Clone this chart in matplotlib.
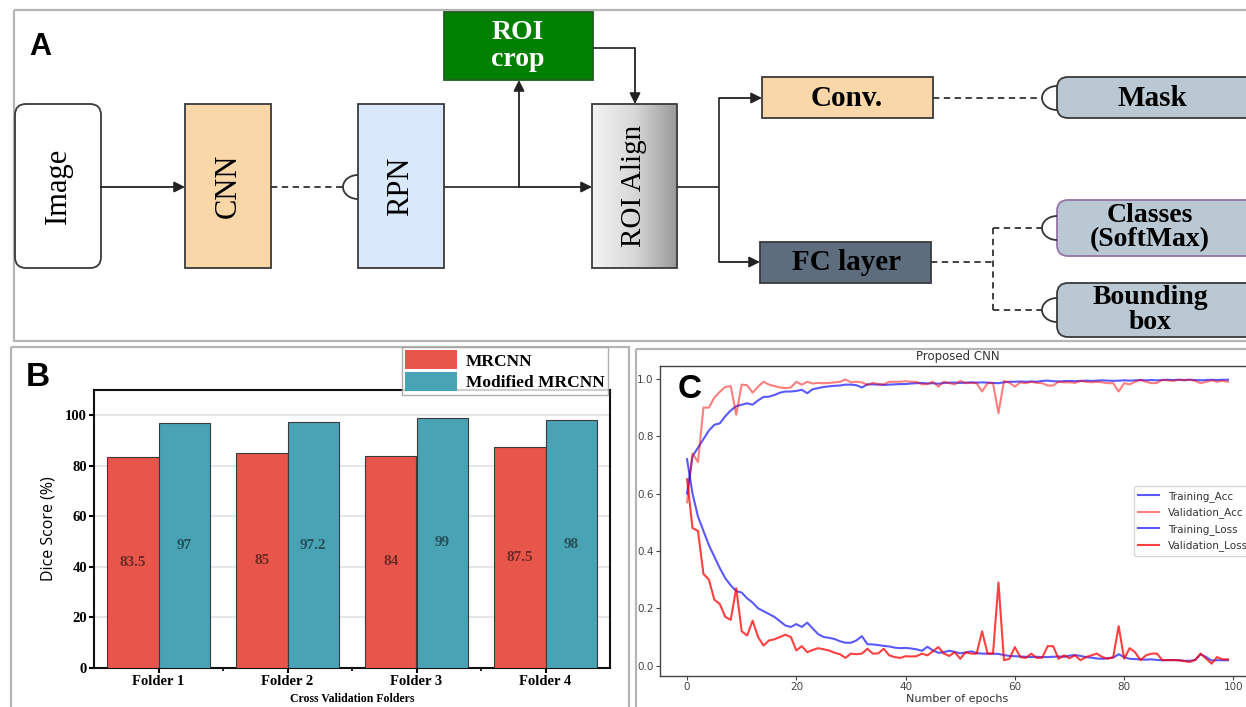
import numpy as np
import matplotlib
matplotlib.use('Agg')
import matplotlib.pyplot as plt
from matplotlib.patches import Rectangle, FancyBboxPatch, Arc, Patch
from matplotlib.colors import LinearSegmentedColormap

W, H = 1246, 707

# ---------------- Panel B data ----------------
folders = ['Folder 1', 'Folder 2', 'Folder 3', 'Folder 4']
mrcnn = [83.5, 85, 84, 87.5]
modified = [97, 97.2, 99, 98]
mrcnn_labels = ['83.5', '85', '84', '87.5']
modified_labels = ['97', '97.2', '99', '98']
series_names = ['MRCNN', 'Modified MRCNN']

# ---------------- Panel C data ----------------
epochs = list(range(100))
train_acc = [0.60, 0.73, 0.76, 0.79, 0.82, 0.84, 0.845, 0.87, 0.89, 0.905,
             0.91, 0.915, 0.91, 0.925, 0.937, 0.938, 0.944, 0.952, 0.956, 0.956,
             0.958, 0.962, 0.95, 0.964, 0.968, 0.972, 0.974, 0.976, 0.977, 0.98,
             0.98, 0.978, 0.97, 0.981, 0.981, 0.98, 0.979, 0.98, 0.981, 0.982,
             0.982, 0.984, 0.985, 0.986, 0.984, 0.985, 0.983, 0.986, 0.987, 0.987,
             0.986, 0.987, 0.988, 0.987, 0.988, 0.987, 0.986, 0.985, 0.988, 0.99,
             0.99, 0.991, 0.99, 0.991, 0.99, 0.993, 0.994, 0.992, 0.991, 0.992,
             0.993, 0.992, 0.993, 0.994, 0.993, 0.994, 0.995, 0.994, 0.993, 0.994,
             0.995, 0.994, 0.995, 0.996, 0.995, 0.996, 0.995, 0.996, 0.997, 0.996,
             0.997, 0.996, 0.997, 0.996, 0.995, 0.996, 0.997, 0.996, 0.997, 0.997]
val_acc = [0.57, 0.74, 0.71, 0.90, 0.90, 0.935, 0.955, 0.972, 0.975, 0.875,
           0.98, 0.978, 0.952, 0.973, 0.99, 0.98, 0.975, 0.97, 0.968, 0.97,
           0.99, 0.98, 0.99, 0.984, 0.986, 0.985, 0.986, 0.988, 0.99, 0.998,
           0.988, 0.99, 0.988, 0.979, 0.986, 0.982, 0.981, 0.99, 0.99, 0.99,
           0.992, 0.99, 0.99, 0.981, 0.982, 0.99, 0.973, 0.99, 0.985, 0.981,
           0.993, 0.985, 0.986, 0.985, 0.956, 0.985, 0.985, 0.88, 0.993, 0.987,
           0.973, 0.988, 0.985, 0.99, 0.986, 0.985, 0.977, 0.977, 0.99, 0.988,
           0.988, 0.986, 0.993, 0.99, 0.988, 0.99, 0.988, 0.985, 0.985, 0.956,
           0.985, 0.981, 0.99, 0.997, 0.99, 0.985, 0.986, 0.997, 0.995, 0.993,
           0.997, 0.995, 0.997, 0.993, 0.985, 0.99, 0.995, 0.99, 0.993, 0.99]
train_loss = [0.72, 0.60, 0.52, 0.47, 0.42, 0.38, 0.34, 0.305, 0.28, 0.26,
              0.255, 0.235, 0.22, 0.20, 0.19, 0.18, 0.17, 0.155, 0.14, 0.135,
              0.145, 0.135, 0.15, 0.13, 0.11, 0.10, 0.097, 0.093, 0.085, 0.08,
              0.08, 0.088, 0.103, 0.075, 0.074, 0.072, 0.069, 0.067, 0.063, 0.061,
              0.062, 0.06, 0.057, 0.052, 0.066, 0.053, 0.045, 0.047, 0.052, 0.048,
              0.043, 0.046, 0.05, 0.044, 0.042, 0.042, 0.042, 0.041, 0.037, 0.034,
              0.033, 0.032, 0.031, 0.03, 0.031, 0.03, 0.03, 0.031, 0.032, 0.031,
              0.035, 0.037, 0.034, 0.03, 0.028, 0.025, 0.024, 0.026, 0.028, 0.04,
              0.03, 0.024, 0.023, 0.022, 0.021, 0.022, 0.02, 0.019, 0.019, 0.02,
              0.019, 0.017, 0.017, 0.02, 0.04, 0.03, 0.018, 0.019, 0.019, 0.019]
val_loss = [0.65, 0.48, 0.47, 0.32, 0.30, 0.23, 0.215, 0.17, 0.16, 0.27,
            0.12, 0.105, 0.157, 0.10, 0.07, 0.088, 0.092, 0.10, 0.108, 0.10,
            0.053, 0.068, 0.047, 0.055, 0.061, 0.057, 0.053, 0.045, 0.04, 0.027,
            0.042, 0.04, 0.042, 0.059, 0.042, 0.043, 0.059, 0.036, 0.03, 0.027,
            0.033, 0.032, 0.033, 0.042, 0.036, 0.05, 0.065, 0.042, 0.034, 0.047,
            0.024, 0.047, 0.042, 0.042, 0.12, 0.042, 0.042, 0.29, 0.019, 0.024,
            0.065, 0.03, 0.027, 0.042, 0.027, 0.028, 0.068, 0.068, 0.024, 0.036,
            0.026, 0.036, 0.019, 0.03, 0.036, 0.042, 0.03, 0.024, 0.03, 0.138,
            0.024, 0.061, 0.047, 0.019, 0.036, 0.042, 0.042, 0.019, 0.02, 0.019,
            0.019, 0.016, 0.013, 0.02, 0.042, 0.025, 0.007, 0.03, 0.022, 0.022]
x_ticks_c = [0, 20, 40, 60, 80, 100]
y_ticks_c = [0.0, 0.2, 0.4, 0.6, 0.8, 1.0]

SERIF = 'Liberation Serif'
SANS = 'Liberation Sans'


def fig_rect(l, t, r, b):
    return [l / W, 1 - b / H, (r - l) / W, (b - t) / H]


fig = plt.figure(figsize=(W / 100, H / 100), dpi=100)
fig.patch.set_facecolor('white')

# ---------------- overlay axes (pixel coordinates) ----------------
ax0 = fig.add_axes([0, 0, 1, 1], zorder=0)
ax0.set_xlim(0, W)
ax0.set_ylim(H, 0)
ax0.axis('off')

# panel frames
for (x0, y0, x1, y1) in [(14, 10, 1260, 341), (11, 347, 629, 720), (636, 349, 1260, 720)]:
    ax0.add_patch(Rectangle((x0, y0), x1 - x0, y1 - y0, fill=False,
                            edgecolor='#b5b5b5', lw=1.6))


def box(x0, y0, x1, y1, fc, ec='#3a3a3a', lw=1.3, rounded=False):
    if rounded:
        p = FancyBboxPatch((x0, y0), x1 - x0, y1 - y0,
                           boxstyle='round,pad=0,rounding_size=11',
                           facecolor=fc, edgecolor=ec, lw=lw, zorder=2)
    else:
        p = Rectangle((x0, y0), x1 - x0, y1 - y0, facecolor=fc,
                      edgecolor=ec, lw=lw, zorder=2)
    ax0.add_patch(p)


def arrow(x0, y0, x1, y1):
    ax0.annotate('', xy=(x1, y1), xytext=(x0, y0),
                 arrowprops=dict(arrowstyle='-|>', color='#222222', lw=1.3,
                                 mutation_scale=16, shrinkA=0, shrinkB=0),
                 zorder=3)


def line(xs, ys, dashed=False):
    ax0.plot(xs, ys, color='#333333', lw=1.3,
             ls=(0, (3.5, 2.5)) if dashed else '-', zorder=3,
             solid_capstyle='butt')


def socket(x, y):
    ax0.add_patch(Arc((x, y), 30, 24, theta1=90, theta2=270,
                      color='#333333', lw=1.3, zorder=3))


# boxes
box(15, 104, 101, 268, 'white', rounded=True)
box(185, 104, 271, 268, '#f9d7a8')
box(358, 104, 444, 268, '#dae8fc')
box(444, 12, 593, 80, '#008000', ec='#1f5f1f')
box(592, 104, 677, 268, 'none')
grad = LinearSegmentedColormap.from_list('g', ['#f4f4f4', '#d8d8d8', '#999999'])
ax0.imshow(np.linspace(0, 1, 200).reshape(1, -1), extent=(592, 677, 268, 104),
           cmap=grad, aspect='auto', zorder=1.5)
ax0.set_xlim(0, W)
ax0.set_ylim(H, 0)
box(762, 77, 933, 118, '#f9d7a8')
box(760, 242, 931, 283, '#5d6d7e')
box(1057, 77, 1262, 118, '#bac8d3', rounded=True)
box(1057, 200, 1262, 256, '#bac8d3', ec='#9673a6', rounded=True)
box(1057, 283, 1262, 337, '#bac8d3', rounded=True)

# texts in boxes
ax0.text(58, 186, 'Image', rotation=90, ha='center', va='center', family=SERIF,
         fontsize=22, zorder=4)
ax0.text(228, 186, 'CNN', rotation=90, ha='center', va='center', family=SERIF,
         fontsize=22, zorder=4)
ax0.text(401, 186, 'RPN', rotation=90, ha='center', va='center', family=SERIF,
         fontsize=22, zorder=4)
ax0.text(634, 186, 'ROI Align', rotation=90, ha='center', va='center', family=SERIF,
         fontsize=21, zorder=4)
ax0.text(518, 46, 'ROI\ncrop', ha='center', va='center', family=SERIF,
         fontsize=20, fontweight='bold', color='white', linespacing=1.1, zorder=4)
ax0.text(847, 98, 'Conv.', ha='center', va='center', family=SERIF,
         fontsize=21, fontweight='bold', zorder=4)
ax0.text(846, 262, 'FC layer', ha='center', va='center', family=SERIF,
         fontsize=21, fontweight='bold', zorder=4)
ax0.text(1152, 98, 'Mask', ha='center', va='center', family=SERIF,
         fontsize=21, fontweight='bold', zorder=4)
ax0.text(1150, 228, 'Classes\n(SoftMax)', ha='center', va='center', family=SERIF,
         fontsize=20, fontweight='bold', linespacing=0.95, zorder=4)
ax0.text(1150, 310, 'Bounding\nbox', ha='center', va='center', family=SERIF,
         fontsize=20, fontweight='bold', linespacing=0.95, zorder=4)

# connectors
arrow(101, 187, 185, 187)
line([271, 343], [187, 187], dashed=True)
socket(358, 187)
line([444, 519], [187, 187])
arrow(519, 187, 592, 187)
arrow(519, 187, 519, 80)
line([593, 635], [48, 48])
arrow(635, 48, 635, 104)
line([677, 719], [187, 187])
line([719, 719], [98, 262])
arrow(719, 98, 762, 98)
arrow(719, 262, 760, 262)
line([933, 1042], [98, 98], dashed=True)
socket(1057, 98)
line([931, 993], [262, 262], dashed=True)
line([993, 993], [228, 310], dashed=True)
line([993, 1042], [228, 228], dashed=True)
line([993, 1042], [310, 310], dashed=True)
socket(1057, 228)
socket(1057, 310)

# panel letters
fig.text(40 / W, 1 - 47 / H, 'A', family=SANS, fontweight='bold', fontsize=22,
         ha='center', va='center')
fig.text(38 / W, 1 - 378 / H, 'B', family=SANS, fontweight='bold', fontsize=24,
         ha='center', va='center')

# ---------------- Panel B ----------------
B_TOP, B_BOT = 390, 668
axB = fig.add_axes(fig_rect(94, B_TOP, 610, B_BOT), zorder=2)
x = np.arange(len(folders))
w = 0.4
c_red, c_teal = '#e8554a', '#4aa3b4'
axB.bar(x - w / 2, mrcnn, w, color=c_red, edgecolor='#3a3a3a', lw=0.8, zorder=3)
axB.bar(x + w / 2, modified, w, color=c_teal, edgecolor='#3a3a3a', lw=0.8, zorder=3)
for xi, v, s in zip(x, mrcnn, mrcnn_labels):
    axB.text(xi - w / 2, v / 2, s, ha='center', va='center', family=SERIF,
             fontweight='bold', fontsize=11, color='#6e2b25', zorder=4)
for xi, v, s in zip(x, modified, modified_labels):
    axB.text(xi + w / 2, v / 2, s, ha='center', va='center', family=SERIF,
             fontweight='bold', fontsize=11, color='#24515b', zorder=4)
axB.set_xlim(-0.5, 3.5)
axB.set_ylim(0, 110)
axB.set_yticks(range(0, 101, 20))
axB.set_xticks(x)
axB.set_xticklabels(folders)
axB.set_xticks([0.5, 1.5, 2.5], minor=True)
axB.yaxis.grid(True, color='#e4e4e4', lw=1.3, zorder=0)
axB.set_axisbelow(True)
for sp in axB.spines.values():
    sp.set_linewidth(1.5)
    sp.set_color('#111111')
axB.tick_params(axis='both', which='major', width=1.5, length=3.5, direction='out',
                pad=1.5)
axB.tick_params(axis='x', which='minor', width=1.2, length=2.5)
for lab in axB.get_xticklabels() + axB.get_yticklabels():
    lab.set_family(SERIF)
    lab.set_fontweight('bold')
    lab.set_fontsize(10.5)
axB.set_ylabel('Dice Score (%)', family='Open Sans', fontsize=11.5, labelpad=6)
axB.set_xlabel('Cross Validation Folders', family=SERIF, fontweight='bold',
               fontsize=8.5)
axB.xaxis.set_label_coords(0.5, -(693 - B_BOT) / (B_BOT - B_TOP))
handles = [Patch(facecolor=c_red, edgecolor='none'),
           Patch(facecolor=c_teal, edgecolor='none')]
fig.legend(handles, series_names, loc='upper right',
           bbox_to_anchor=(608 / W, 1 - 347 / H), bbox_transform=fig.transFigure,
           prop=dict(family=SERIF, weight='bold', size=12.5), frameon=True,
           fancybox=False, edgecolor='#9a9a9a', handlelength=3.0,
           handleheight=1.3, labelspacing=0.12, borderpad=0.2,
           handletextpad=0.5, borderaxespad=0)

# ---------------- Panel C ----------------
C_TOP, C_BOT = 366, 676
axC = fig.add_axes(fig_rect(660, C_TOP, 1255, C_BOT), zorder=2)
axC.plot(epochs, train_acc, color='#0000ff', alpha=0.65, lw=1.5, label='Training_Acc')
axC.plot(epochs, val_acc, color='#ff0000', alpha=0.5, lw=1.5, label='Validation_Acc')
axC.plot(epochs, train_loss, color='#0000ff', alpha=0.65, lw=1.5, label='Training_Loss')
axC.plot(epochs, val_loss, color='#ff0000', alpha=0.75, lw=1.5, label='Validation_Loss')
axC.set_xlim(-4.95, 103.95)
axC.set_ylim(-0.036, 1.045)
axC.set_xticks(x_ticks_c)
axC.set_yticks(y_ticks_c)
axC.tick_params(labelsize=7.5, colors='#444444', length=3, pad=1.5)
for sp in axC.spines.values():
    sp.set_color('#444444')
    sp.set_linewidth(1.0)
axC.set_title('Proposed CNN', fontsize=8.5, color='#333333', pad=4)
axC.set_xlabel('Number of epochs', fontsize=8, color='#333333')
axC.xaxis.set_label_coords(0.5, -(694 - C_BOT) / (C_BOT - C_TOP))
axC.legend(loc='center right', fontsize=7.5, handlelength=2.0, labelspacing=0.55,
           borderaxespad=0.3, labelcolor='#333333')
fig.text(690 / W, 1 - 389 / H, 'C', family=SANS, fontweight='bold', fontsize=24,
         ha='center', va='center', zorder=5)

fig.savefig('out.png', dpi=100)
